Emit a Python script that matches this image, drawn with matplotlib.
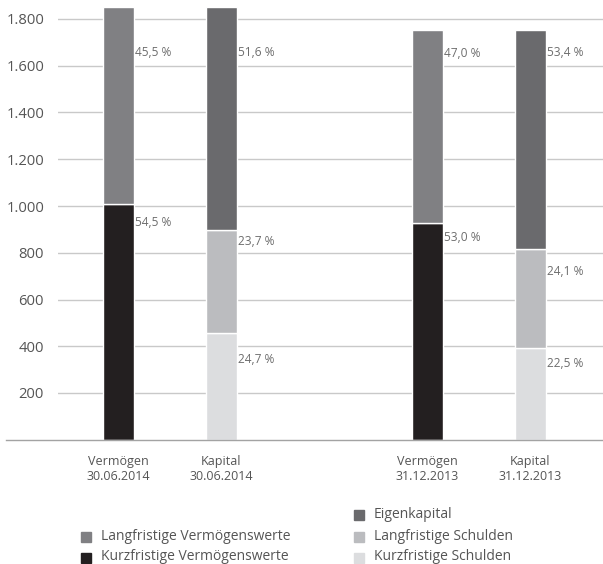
import matplotlib
matplotlib.use("Agg")
import matplotlib.pyplot as plt
from matplotlib.patches import Rectangle
import numpy as np

plt.rcParams['font.family'] = ['Open Sans', 'DejaVu Sans']

# Balance sheet structure (Mio. EUR), totals per column
columns = ["Vermögen\n30.06.2014", "Kapital\n30.06.2014", "Vermögen\n31.12.2013", "Kapital\n31.12.2013"]
totals = [1850, 1850, 1752, 1752]

# Shares in percent, bottom to top within each column
assets_2014 = [54.5, 45.5]          # Kurzfristige / Langfristige Vermögenswerte
capital_2014 = [24.7, 23.7, 51.6]   # Kurzfristige / Langfristige Schulden / Eigenkapital
assets_2013 = [53.0, 47.0]
capital_2013 = [22.5, 24.1, 53.4]

asset_names = ["Kurzfristige Vermögenswerte", "Langfristige Vermögenswerte"]
capital_names = ["Kurzfristige Schulden", "Langfristige Schulden", "Eigenkapital"]
asset_colors = ["#231f20", "#808083"]
capital_colors = ["#dcdddf", "#bbbcbf", "#6a6a6d"]

yticks = [200, 400, 600, 800, 1000, 1200, 1400, 1600, 1800]
ytick_labels = ["200", "400", "600", "800", "1.000", "1.200", "1.400", "1.600", "1.800"]

# label offsets below the top of each segment, in pixels
label_offsets = {
    0: [18, 45],
    1: [27, 11, 45],
    2: [15, 23],
    3: [16, 23, 22],
}

W, H = 603, 564
fig = plt.figure(figsize=(W / 100, H / 100), dpi=100)
ax_left, ax_right, ax_bottom, ax_top = 58, 603, 439.75, 0.3
ax = fig.add_axes([ax_left / W, (H - ax_bottom) / H, (ax_right - ax_left) / W, (ax_bottom - ax_top) / H])

positions = [0, 1, 3, 4]
bar_w = 0.30
ymax = 1880
ax.set_xlim(-0.587, 4.704)
ax.set_ylim(0, ymax)
px_per_unit = (ax_bottom - ax_top) / ymax

for yv in yticks:
    ax.axhline(yv, color="#c9c9c9", lw=1.0, zorder=0)
ax.plot([-1.09, 4.704], [0, 0], color="#a3a3a3", lw=1.0, clip_on=False, zorder=3)

stacks = [
    (assets_2014, asset_colors),
    (capital_2014, capital_colors),
    (assets_2013, asset_colors),
    (capital_2013, capital_colors),
]

for i, (x, total, (shares, colors)) in enumerate(zip(positions, totals, stacks)):
    bottom = 0.0
    for j, (pct, col) in enumerate(zip(shares, colors)):
        h = total * pct / 100.0
        ax.bar(x, h, bar_w, bottom=bottom, color=col, edgecolor="white", linewidth=1.0, zorder=2)
        top = bottom + h
        ly = top - label_offsets[i][j] / px_per_unit
        ax.text(x + bar_w / 2 + 0.01, ly, f"{pct:.1f} %".replace(".", ","),
                ha="left", va="center", fontsize=8.6, color="#6d6d6d")
        bottom = top

ax.set_yticks(yticks)
ax.set_yticklabels(ytick_labels, fontsize=10.6, color="#555555")
ax.set_xticks(positions)
ax.set_xticklabels(columns, fontsize=9, color="#555555", linespacing=1.2)
ax.tick_params(axis="y", length=0, pad=10)
ax.tick_params(axis="x", length=0, pad=11)
for s in ax.spines.values():
    s.set_visible(False)

# Legend drawn in figure pixel coordinates
def legend_item(x, y, color, label):
    sq = 10
    fig.patches.append(Rectangle(((x) / W, (H - y - sq / 2) / H), sq / W, sq / H,
                                 transform=fig.transFigure, color=color, figure=fig))
    fig.text((x + 20) / W, (H - y + 1) / H, label, ha="left", va="center",
             fontsize=10, color="#555555")

legend_item(81, 537, asset_colors[1], asset_names[1])
legend_item(81, 558, asset_colors[0], asset_names[0])
legend_item(354, 515, capital_colors[2], capital_names[2])
legend_item(354, 537, capital_colors[1], capital_names[1])
legend_item(354, 558, capital_colors[0], capital_names[0])

fig.savefig("out.png", dpi=100)
